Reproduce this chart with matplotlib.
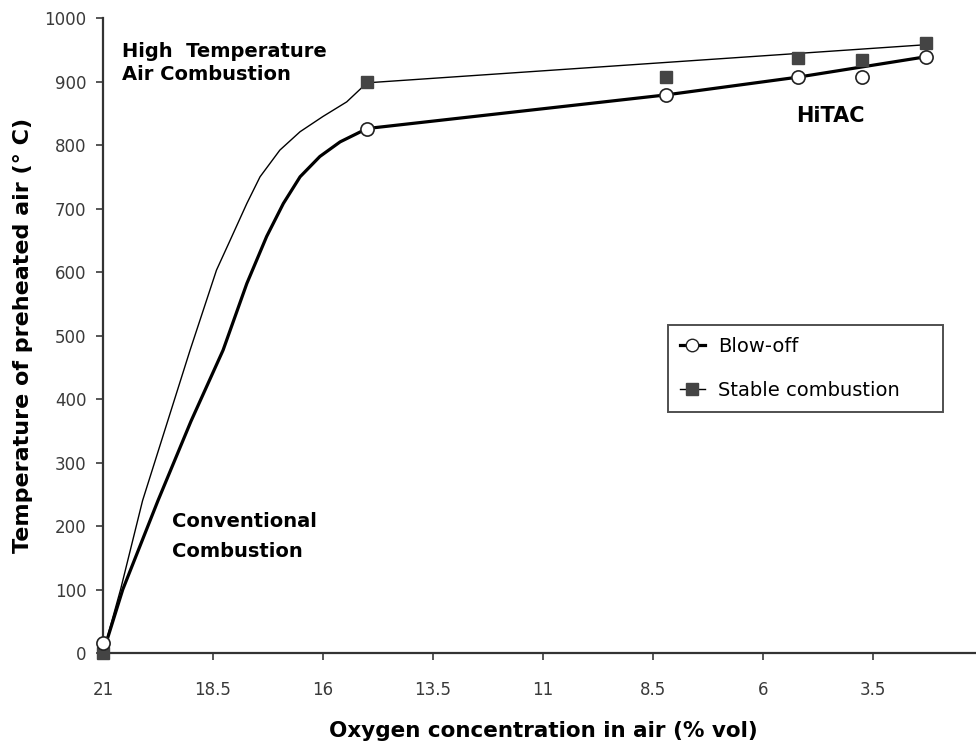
import matplotlib
matplotlib.use("Agg")
import matplotlib.pyplot as plt
from matplotlib.lines import Line2D
from matplotlib.legend_handler import HandlerLine2D

# measured points (oxygen % vol, preheated air temperature in deg C)
oxygen_pts = [21, 15, 8.2, 5.2, 3.75, 2.3]
blowoff_pts = [15, 826, 879, 907, 907, 939]
stable_pts = [0, 900, 907, 937, 934, 961]

# hand-drawn limit curves
blowoff_curve_x = [21, 20.55, 19.75, 19.0, 18.27, 17.73, 17.28, 16.9, 16.52,
                   16.07, 15.61, 15.23, 15.0, 8.2, 5.2, 2.3]
blowoff_curve_y = [0, 100, 240, 365, 477, 582, 656, 708, 750,
                   782, 805, 818, 826, 879, 907, 939]
stable_curve_x = [21, 20.6, 20.1, 19.02, 18.42, 18.11, 17.73, 17.43, 16.98,
                  16.52, 16.0, 15.46, 15.0, 2.3]
stable_curve_y = [0, 100, 240, 477, 603, 650, 708, 750, 792,
                  821, 845, 868, 898, 958]

x_ticks = [21, 18.5, 16, 13.5, 11, 8.5, 6, 3.5, 1]
y_ticks = list(range(0, 1001, 100))


class EndMarkerHandler(HandlerLine2D):
    """Legend handler that puts the marker at the right end of the line."""
    def get_xdata(self, legend, xdescent, ydescent, width, height, fontsize):
        xdata = [-xdescent, -xdescent + width]
        return xdata, [-xdescent + width]


fig = plt.figure(figsize=(9.76, 7.43), dpi=100)
ax = fig.add_axes([0.1055, 0.1211, 0.9016, 0.8546])

ax.plot(blowoff_curve_x, blowoff_curve_y, color="black", lw=2.3, zorder=2,
        solid_joinstyle="round")
ax.plot(stable_curve_x, stable_curve_y, color="black", lw=1.0, zorder=2,
        solid_joinstyle="round")
ax.plot(oxygen_pts, stable_pts, ls="none", marker="s", ms=9,
        mfc="#444444", mec="#444444", zorder=3, clip_on=False)
ax.plot(oxygen_pts, blowoff_pts, ls="none", marker="o", ms=9.5,
        mfc="white", mec="#222222", mew=1.2, zorder=4, clip_on=False)

ax.set_xlim(21, 1)
ax.set_ylim(0, 1000)
ax.set_xticks(x_ticks)
ax.set_xticklabels([f"{t:g}" for t in x_ticks])
ax.set_yticks(y_ticks)

for side in ("top", "right"):
    ax.spines[side].set_visible(False)
for side in ("left", "bottom"):
    ax.spines[side].set_linewidth(1.6)
    ax.spines[side].set_color("#333333")
ax.tick_params(axis="both", direction="out", length=5, width=1.2,
               colors="#3a3a3a", labelsize=12)
ax.tick_params(axis="y", pad=7)
ax.tick_params(axis="x", pad=15)

ax.set_xlabel("Oxygen concentration in air (% vol)", fontsize=15.5,
              fontweight="bold", labelpad=16)
ax.set_ylabel("Temperature of preheated air (° C)", fontsize=16,
              fontweight="bold", labelpad=8)

ax.text(0.022, 0.962, "High  Temperature\nAir Combustion", transform=ax.transAxes,
        fontsize=14, fontweight="bold", va="top", ha="left", linespacing=1.25)
ax.text(0.078, 0.222, "Conventional\nCombustion", transform=ax.transAxes,
        fontsize=14, fontweight="bold", va="top", ha="left", linespacing=1.75)
ax.text(0.788, 0.846, "HiTAC", transform=ax.transAxes,
        fontsize=15, fontweight="bold", va="center", ha="left")

handles = [
    Line2D([], [], color="black", lw=2.3, marker="o", ms=9, mfc="white",
           mec="#222222"),
    Line2D([], [], color="black", lw=1.0, marker="s", ms=8, mfc="#444444",
           mec="#444444"),
]
leg = ax.legend(handles, ["Blow-off", "Stable combustion"], loc="upper left",
                bbox_to_anchor=(0.642, 0.378, 0.3125, 0.1385), mode="expand",
                fontsize=14, frameon=True, fancybox=False, edgecolor="#222222",
                borderpad=0.6, handlelength=1.3, handletextpad=0.7,
                labelspacing=1.3, borderaxespad=0,
                handler_map={Line2D: EndMarkerHandler(numpoints=1)})
leg.get_frame().set_linewidth(1.4)

fig.savefig("out.png", dpi=100)
